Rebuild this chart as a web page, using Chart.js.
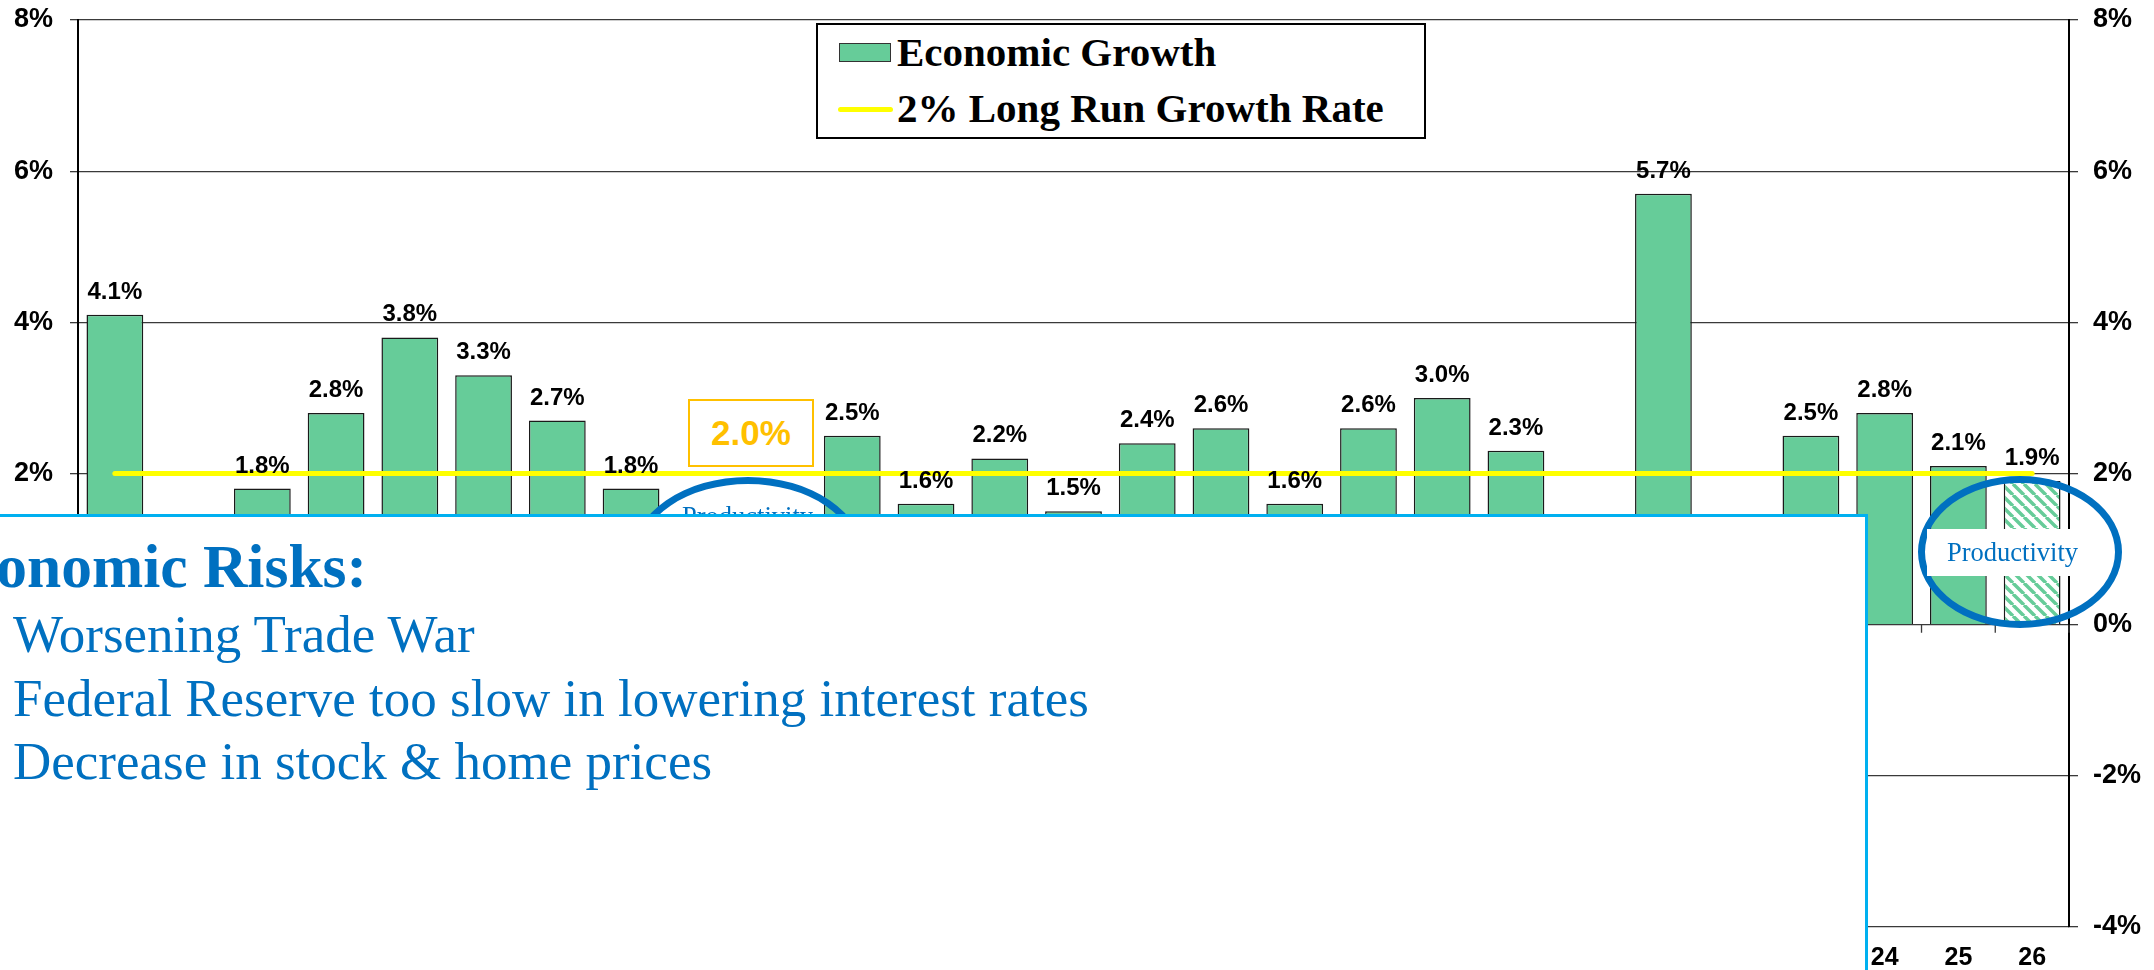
<!DOCTYPE html>
<html>
<head>
<meta charset="utf-8">
<title>Economic Growth</title>
<script src="https://cdn.jsdelivr.net/npm/chart.js@4.4.1/dist/chart.umd.min.js"></script>
<style>
  html, body { margin: 0; padding: 0; background: #fff; overflow: hidden; }
  #wrap { position: relative; width: 2154px; height: 970px; overflow: hidden; }
  #growthChart { position: absolute; left: 0; top: 0; }

  .legend { position: absolute; left: 816px; top: 23px; width: 610px; height: 116px; box-sizing: border-box;
            border: 2px solid #000; background: #fff; font-family: 'Liberation Serif', 'Times New Roman', serif;
            font-weight: bold; font-size: 41px; color: #000; }
  .legend .txt { position: absolute; left: 79px; line-height: 41px; white-space: nowrap; }
  .legend .swatch { position: absolute; left: 21px; top: 18px; width: 52px; height: 19px; box-sizing: border-box;
                    background: #66CC99; border: 1.5px solid #333; }
  .legend .ln { position: absolute; left: 20px; top: 82px; width: 55px; height: 5px; border-radius: 3px; background: #FFFF00; }

  .target { position: absolute; left: 688px; top: 399px; width: 126px; height: 68px; box-sizing: border-box;
            border: 2px solid #FFC000; background: #fff; color: #FFC000; text-align: center;
            font: bold 35px 'Liberation Sans', Arial, sans-serif; line-height: 64px; }

  .ell { position: absolute; border: 7px solid #0070C0; border-radius: 50%; box-sizing: border-box; }
  .prod { position: absolute; font-family: 'Liberation Serif', 'Times New Roman', serif; font-size: 26.5px;
          color: #0070C0; line-height: 47px; height: 47px; white-space: nowrap; box-sizing: border-box; }

  .risk { position: absolute; left: -10px; top: 514px; width: 1878px; height: 520px; box-sizing: border-box;
          border: 3px solid #00B0F0; background: #fff; }
  .riskHead { position: absolute; right: 1787px; top: 535.5px; white-space: nowrap; color: #0070C0;
              font: bold 61.5px 'Liberation Serif', 'Times New Roman', serif; line-height: 61.5px; }
  .riskList { position: absolute; left: 13px; top: 603.4px; white-space: nowrap; color: #0070C0;
              font: 53px 'Liberation Serif', 'Times New Roman', serif; line-height: 63.5px; }
</style>
</head>
<body>
<div id="wrap">
  <canvas id="growthChart" width="2154" height="970"></canvas>

  <div class="target">2.0%</div>

  <div class="ell" style="left:632px; top:477px; width:232px; height:160px;"></div>
  <div class="prod" style="left:682px; top:493px;">Productivity</div>

  <div class="risk"></div>
  <div class="riskHead">Economic Risks:</div>
  <div class="riskList">
    Worsening Trade War<br>
    Federal Reserve too slow in lowering interest rates<br>
    Decrease in stock &amp; home prices
  </div>

  <div class="ell" style="left:1918px; top:476px; width:204px; height:152px;"></div>
  <div class="prod" style="left:1927px; top:529px; width:151px; padding-left:20px; background:#fff;">Productivity</div>

  <div class="legend">
    <div class="swatch"></div>
    <div class="txt" style="top:6.5px;">Economic Growth</div>
    <div class="ln"></div>
    <div class="txt" style="top:62.5px;">2% Long Run Growth Rate</div>
  </div>
</div>

<script>
// Real GDP growth by year (2000 - 2026), % change
const years = ['00', '01', '02', '03', '04', '05', '06', '07', '08', '09',
               '10', '11', '12', '13', '14', '15', '16', '17', '18', '19',
               '20', '21', '22', '23', '24', '25', '26'];
const growth = [4.1, 1.0, 1.8, 2.8, 3.8, 3.3, 2.7, 1.8, -0.1, -2.5,
                2.5, 1.6, 2.2, 1.5, 2.4, 2.6, 1.6, 2.6, 3.0, 2.3,
                -2.2, 5.7, 0.9, 2.5, 2.8, 2.1, 1.9];
const longRun = [2, 2, 2, 2, 2, 2, 2, 2, 2, 2,
                 2, 2, 2, 2, 2, 2, 2, 2, 2, 2,
                 2, 2, 2, 2, 2, 2, 2];
const forecastYears = ['26'];
const yTicks = [-4, -2, 0, 2, 4, 6, 8];

const GREEN = '#66CC99';

function makeHatch() {
    const c = document.createElement('canvas');
    c.width = 11; c.height = 11;
    const g = c.getContext('2d');
    g.fillStyle = '#fff';
    g.fillRect(0, 0, 11, 11);
    g.strokeStyle = GREEN;
    g.lineWidth = 3.5;
    g.beginPath();
    [-11, 0, 11].forEach(o => { g.moveTo(o, 0); g.lineTo(o + 11, 11); });
    g.stroke();
    return g.createPattern(c, 'repeat');
}

document.addEventListener('DOMContentLoaded', function () {
    Chart.defaults.font.family = "'Liberation Sans', Arial, sans-serif";
    const canvas = document.getElementById('growthChart');
    const hatch = makeHatch();
    const barColors = years.map(y => forecastYears.includes(y) ? hatch : GREEN);

    // value labels above bars
    const barLabels = {
        id: 'barLabels',
        afterDatasetsDraw(chart) {
            const ctx = chart.ctx;
            const meta = chart.getDatasetMeta(1);
            ctx.save();
            ctx.font = "bold 24px 'Liberation Sans', Arial, sans-serif";
            ctx.fillStyle = '#000';
            ctx.textAlign = 'center';
            meta.data.forEach((bar, i) => {
                const v = growth[i];
                if (v >= 0) {
                    ctx.textBaseline = 'alphabetic';
                    ctx.fillText(v.toFixed(1) + '%', bar.x, bar.y - 16);
                } else {
                    ctx.textBaseline = 'top';
                    ctx.fillText(v.toFixed(1) + '%', bar.x, bar.y + 8);
                }
            });
            ctx.restore();
        }
    };

    // small category tick marks hanging from the 0% line
    const zeroTicks = {
        id: 'zeroTicks',
        beforeDatasetsDraw(chart) {
            const x = chart.scales.x, y = chart.scales.y;
            const ctx = chart.ctx;
            const y0 = y.getPixelForValue(0);
            const half = (x.getPixelForValue(1) - x.getPixelForValue(0)) / 2;
            ctx.save();
            ctx.strokeStyle = '#3a3a3a';
            ctx.lineWidth = 1.3;
            ctx.beginPath();
            for (let i = 0; i <= years.length; i++) {
                const px = x.getPixelForValue(0) - half + i * 2 * half;
                ctx.moveTo(px, y0);
                ctx.lineTo(px, y0 + 8);
            }
            ctx.stroke();
            ctx.restore();
        }
    };

    const tickFont = { size: 27, weight: 'bold' };

    new Chart(canvas, {
        data: {
            labels: years,
            datasets: [{
                type: 'line',
                label: '2% Long Run Growth Rate',
                data: longRun,
                borderColor: '#FFFF00',
                borderWidth: 5,
                borderCapStyle: 'round',
                pointRadius: 0,
                yAxisID: 'y',
                order: 0
            }, {
                type: 'bar',
                label: 'Economic Growth',
                data: growth,
                backgroundColor: barColors,
                borderColor: '#1a1a1a',
                borderWidth: 1.5,
                barPercentage: 0.77,
                categoryPercentage: 1,
                yAxisID: 'y',
                order: 1
            }]
        },
        options: {
            responsive: false,
            animation: false,
            devicePixelRatio: 1,
            layout: { padding: { top: 20, left: 0, right: 0, bottom: 0 } },
            plugins: {
                legend: { display: false },
                tooltip: { enabled: false }
            },
            scales: {
                x: {
                    grid: { display: false, drawTicks: false },
                    border: { display: false },
                    ticks: { font: { size: 25, weight: 'bold' }, color: '#000', padding: 16, maxRotation: 0, autoSkip: false },
                    afterFit(s) { s.height = 43; }
                },
                y: {
                    position: 'left',
                    min: -4, max: 8,
                    afterBuildTicks(s) { s.ticks = yTicks.map(v => ({ value: v })); },
                    grid: { color: '#3a3a3a', lineWidth: 1.3, tickLength: 8 },
                    border: { color: '#000', width: 2 },
                    ticks: { font: tickFont, color: '#000', padding: 17, callback: v => v + '%' },
                    afterFit(s) { s.width = 78; s.paddingTop = 0; s.paddingBottom = 0; }
                },
                y2: {
                    position: 'right',
                    min: -4, max: 8,
                    afterBuildTicks(s) { s.ticks = yTicks.map(v => ({ value: v })); },
                    grid: { drawOnChartArea: false, color: '#3a3a3a', lineWidth: 1.3, tickLength: 9 },
                    border: { color: '#000', width: 2 },
                    ticks: { font: tickFont, color: '#000', padding: 15, callback: v => v + '%' },
                    afterFit(s) { s.width = 85; s.paddingTop = 0; s.paddingBottom = 0; }
                }
            }
        },
        plugins: [zeroTicks, barLabels]
    });
});
</script>
</body>
</html>
